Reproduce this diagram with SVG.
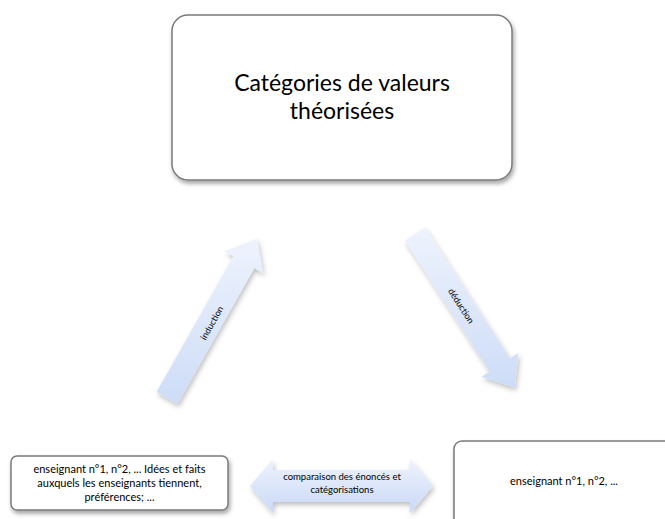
<svg xmlns="http://www.w3.org/2000/svg" width="665" height="519" viewBox="0 0 665 519">
<defs>
<filter id="sh" x="-10%" y="-10%" width="130%" height="140%">
<feDropShadow dx="1.5" dy="3" stdDeviation="2" flood-color="#000" flood-opacity="0.35"/>
</filter>
<filter id="sha" x="-20%" y="-20%" width="150%" height="150%">
<feDropShadow dx="1.5" dy="3" stdDeviation="2.5" flood-color="#000" flood-opacity="0.25"/>
</filter>
<linearGradient id="g1" gradientUnits="userSpaceOnUse" x1="0" y1="238" x2="0" y2="404">
<stop offset="0" stop-color="#eef3fd"/>
<stop offset="1" stop-color="#cddcf7"/>
</linearGradient>
<linearGradient id="g2" gradientUnits="userSpaceOnUse" x1="0" y1="227" x2="0" y2="388">
<stop offset="0" stop-color="#eef3fd"/>
<stop offset="1" stop-color="#cddcf7"/>
</linearGradient>
<linearGradient id="g3" gradientUnits="userSpaceOnUse" x1="0" y1="459" x2="0" y2="513">
<stop offset="0" stop-color="#eef3fd"/>
<stop offset="1" stop-color="#c9d9f6"/>
</linearGradient>
</defs>
<style>
.box{fill:#fff;stroke:#7a7a7a;stroke-width:1.5;filter:url(#sh)}
.arr{stroke:none;filter:url(#sha)}
text{font-family:Lato,"Open Sans","Liberation Sans",sans-serif;fill:#000;text-anchor:middle}
.big{font-size:23px}
.sm{font-size:11px}
.xs{font-size:9.5px}
.lbl{font-size:9px}
</style>
<g id="connectors">
<g id="induction">
<path class="arr" fill="url(#g1)" d="M156.6,392.1 L233.4,256.3 L224.7,251.4 L257.1,238.7 L263,273 L254.3,268.1 L177.4,403.9 Z"/>
<text class="lbl" transform="translate(212,323) rotate(-60.5)" dy="3">induction</text>
</g>
<g id="deduction">
<path class="arr" fill="url(#g2)" d="M425.1,227.5 L510,358.3 L518.4,352.9 L514.7,387.5 L481.5,376.8 L489.9,371.4 L404.9,240.5 Z"/>
<text class="lbl" transform="translate(461,306) rotate(57)" dy="3">déduction</text>
</g>
<g id="comparaison">
<path class="arr" fill="url(#g3)" d="M250,486 L273,459 L273,470 L410,470 L410,459 L433,486 L410,513 L410,502 L273,502 L273,513 Z"/>
<text class="xs" x="342" y="480">comparaison des énoncés et</text>
<text class="xs" x="342" y="493">catégorisations</text>
</g>
</g>
<g id="node-top">
<rect class="box" x="172" y="15" width="340" height="165" rx="16"/>
<text class="big" x="342" y="91">Catégories de valeurs</text>
<text class="big" x="342" y="119">théorisées</text>
</g>
<g id="node-left">
<rect class="box" x="11" y="456" width="217" height="54" rx="6"/>
<text class="sm" x="119.5" y="473">enseignant n°1, n°2, ... Idées et faits</text>
<text class="sm" x="119.5" y="487">auxquels les enseignants tiennent,</text>
<text class="sm" x="119.5" y="501">préférences; ...</text>
</g>
<g id="node-right">
<rect class="box" x="454" y="441" width="220" height="100" rx="8"/>
<text class="sm" x="564" y="485">enseignant n°1, n°2, ...</text>
</g>
</svg>
